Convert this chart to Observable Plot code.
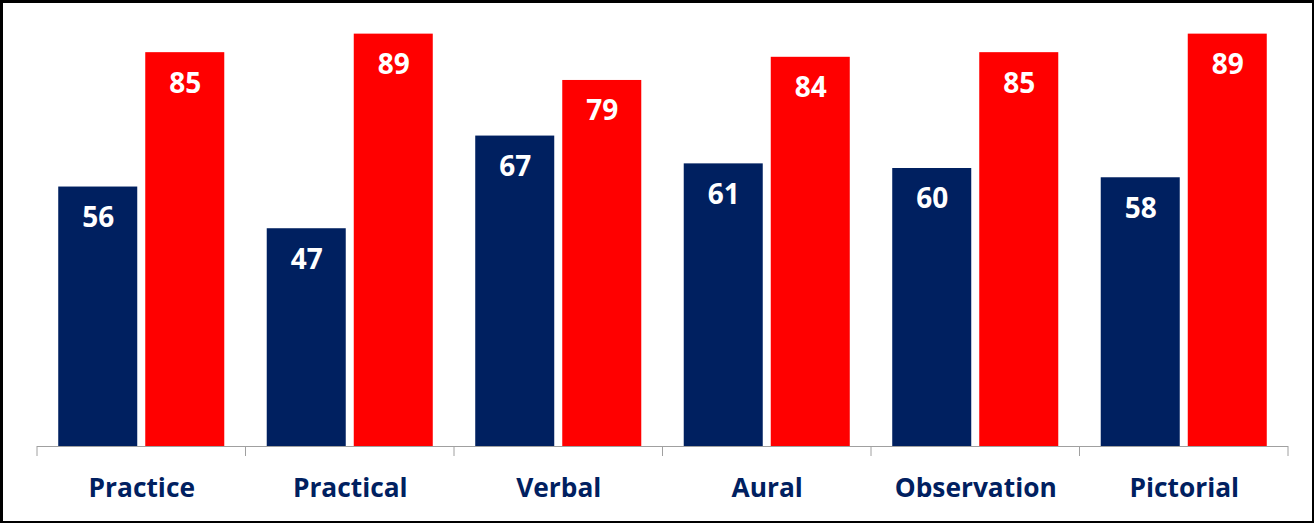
<!DOCTYPE html>
<html>
<head>
<meta charset="utf-8">
<script src="https://cdn.jsdelivr.net/npm/d3@7"></script>
<script src="https://cdn.jsdelivr.net/npm/@observablehq/plot@0.6"></script>
<style>
  html, body { margin: 0; padding: 0; background: #fff; }
  #wrap { position: relative; width: 1314px; height: 523px; overflow: hidden; }
  #frame { position: absolute; left: 0; top: 0; width: 1314px; height: 523px; box-sizing: border-box;
           border-left: 3px solid #000; border-top: 3px solid #000; border-right: 2px solid #000; border-bottom: 2px solid #000; pointer-events: none; }
  svg { display: block; }
</style>
</head>
<body>
<div id="wrap"><div id="chart"></div><div id="frame"></div></div>
<script>
const categories = ["Practice", "Practical", "Verbal", "Aural", "Observation", "Pictorial"];
const seriesNames = ["Series 1", "Series 2"];
const series1 = [56, 47, 67, 61, 60, 58];
const series2 = [85, 89, 79, 84, 85, 89];
const colors = ["#002060", "#FF0000"];

const data = [];
categories.forEach((c, i) => {
  data.push({category: c, series: seriesNames[0], value: series1[i]});
  data.push({category: c, series: seriesNames[1], value: series2[i]});
});

const font = "'Open Sans', 'DejaVu Sans', sans-serif";

const chart = Plot.plot({
  width: 1314,
  height: 523,
  marginLeft: 37,
  marginRight: 26,
  marginTop: 29,
  marginBottom: 77,
  style: {fontFamily: font, background: "transparent"},
  fx: {domain: categories, paddingInner: 0, paddingOuter: 0, round: false, label: null},
  x: {domain: seriesNames, paddingInner: 0.092, paddingOuter: 0.244, round: false, axis: null},
  y: {domain: [0, 90], axis: null},
  color: {domain: seriesNames, range: colors},
  marks: [
    Plot.barY(data, {fx: "category", x: "series", y: "value", fill: "series"}),
    Plot.text(data, {fx: "category", x: "series", y: "value", text: d => String(d.value),
      dy: 31, lineAnchor: "middle", fill: "white", fontSize: 28, fontWeight: "bold", fontFamily: font}),
    Plot.ruleY([0], {stroke: "#a0a0a0", strokeWidth: 1}),
    Plot.axisFx({anchor: "bottom", tickSize: 0, tickPadding: 32, fontSize: 26.3, fontWeight: "bold",
      fill: "#002060", fontFamily: font, label: null})
  ]
});

document.getElementById("chart").appendChild(chart);

// group boundary tick marks, placed from the library's own fx and y scales
const fx = chart.scale("fx");
const y = chart.scale("y");
const y0 = y.apply(0);
const edges = categories.map(c => fx.apply(c));
edges.push(fx.apply(categories[categories.length - 1]) + fx.bandwidth);
d3.select(chart).append("g")
  .attr("stroke", "#a0a0a0").attr("stroke-width", 1)
  .selectAll("line").data(edges).join("line")
  .attr("x1", d => d).attr("x2", d => d)
  .attr("y1", y0).attr("y2", y0 + 10);
</script>
</body>
</html>
